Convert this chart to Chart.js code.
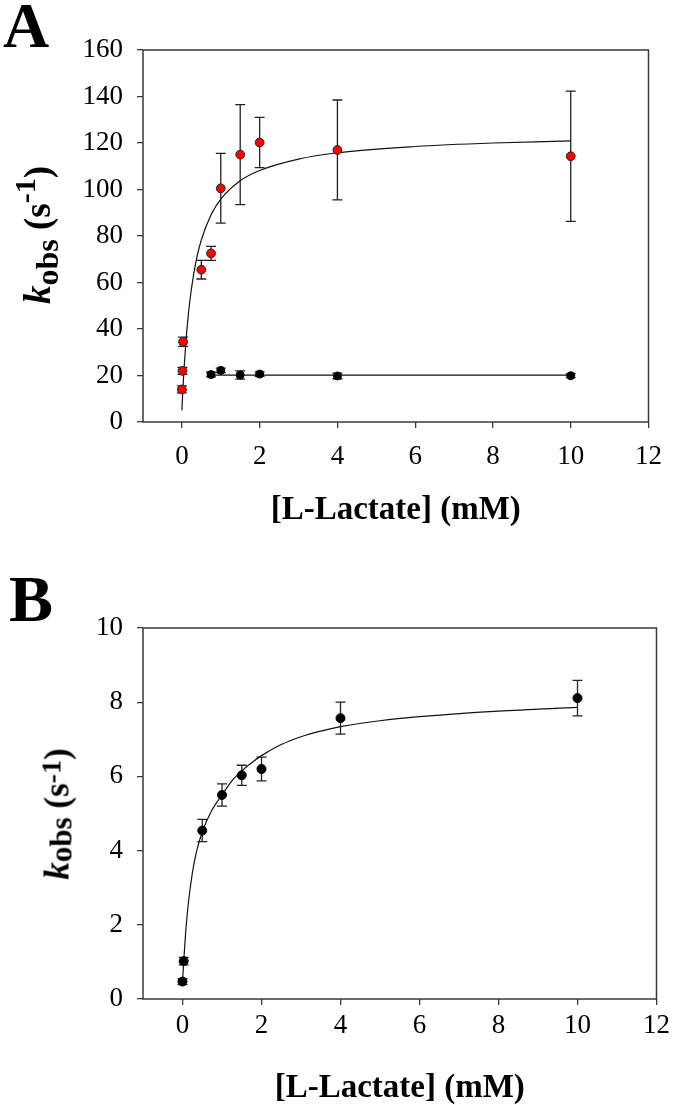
<!DOCTYPE html>
<html>
<head>
<meta charset="utf-8">
<script src="https://cdn.jsdelivr.net/npm/chart.js@4.4.1/dist/chart.umd.min.js"></script>
<style>
  body { margin: 0; background: #fff; }
  #wrap { position: relative; width: 675px; height: 1105px; overflow: hidden; }
  canvas { position: absolute; left: 0; }
  .panel { position: absolute; font-family: 'Liberation Serif', serif; font-weight: bold; line-height: 1; color: #000; }
  .ytitle {
    position: absolute; white-space: nowrap; color: #000;
    font-family: 'Liberation Serif', serif; font-weight: bold; font-size: 37px; line-height: 1;
    transform: translate(-50%, -50%) rotate(-90deg);
  }
  .ytitle sub { font-size: 32px; vertical-align: -8px; line-height: 0; }
  .ytitle sup { font-size: 30px; vertical-align: 15px; line-height: 0; }
</style>
</head>
<body>
<div id="wrap">
  <canvas id="chartA" width="675" height="552" style="top:0"></canvas>
  <canvas id="chartB" width="675" height="553" style="top:552px"></canvas>
  <div class="panel" style="left:3px;top:-6px;font-size:64px">A</div>
  <div class="panel" style="left:9px;top:566px;font-size:66px">B</div>
  <div class="ytitle" style="left:37px;top:235px"><i>k</i><sub>obs</sub> (s<sup>-1</sup>)</div>
  <div class="ytitle" style="left:57px;top:814px;font-size:35px"><i>k</i><sub style="vertical-align:-3px;font-size:31px">obs</sub> (s<sup style="vertical-align:8px;font-size:28px">-1</sup>)</div>
</div>
<script>
// x axis (shared by both panels)
const xTicks = [0, 2, 4, 6, 8, 10, 12];
const xTitle = '[L-Lactate] (mM)';

// Panel A - red points (k_obs, s-1)
const aRedX = [0, 0.015, 0.03, 0.5, 0.75, 1, 1.5, 2, 4, 10];
const aRedY = [14, 22, 34.5, 65.5, 72.5, 100.5, 115, 120.2, 117, 114.3];
const aRedErr = [1.5, 1.5, 2, 4, 3, 15, 21.5, 10.8, 21.5, 28];

// Panel A - black points
const aBlackX = [0.75, 1, 1.5, 2, 4, 10];
const aBlackY = [20.4, 22.2, 20.2, 20.6, 19.8, 19.9];
const aBlackErr = [1, 1, 1.8, 1, 1.2, 0.8];

// Panel A - fitted curves
const aFitX = [0, 0.02, 0.05, 0.1, 0.15, 0.2, 0.3, 0.4, 0.5, 0.75, 1, 1.5, 2, 3, 4, 6, 8, 10];
const aFitY = [5, 12, 21.4, 33.8, 43.5, 51.4, 63.3, 71.9, 78.3, 89.1, 95.9, 103.8, 108.2, 113.1, 115.8, 118.5, 120, 120.9];
const aFlatX = [0.75, 10];
const aFlatY = [20.2, 20.2];

// Panel B - points
const bX = [0, 0.03, 0.5, 1, 1.5, 2, 4, 10];
const bY = [0.47, 1.02, 4.54, 5.5, 6.03, 6.2, 7.57, 8.11];
const bErr = [0.08, 0.1, 0.3, 0.3, 0.27, 0.32, 0.43, 0.48];

// Panel B - fitted curve
const bFitX = [0, 0.03, 0.08, 0.15, 0.25, 0.35, 0.5, 0.75, 1, 1.25, 1.5, 1.75, 2, 2.5, 3, 3.5, 4, 5, 6, 8, 10];
const bFitY = [0.45, 1.0, 1.8, 2.6, 3.4, 3.95, 4.5, 5.1, 5.5, 5.88, 6.15, 6.37, 6.56, 6.86, 7.07, 7.22, 7.34, 7.5, 7.61, 7.76, 7.86];

const serif = 'Liberation Serif';
const axisColor = '#3a3a3a';

function pts(xs, ys) {
    return xs.map((x, i) => ({ x: x, y: ys[i] }));
}

// vertical error bars with caps, drawn under the markers
const errorBars = {
    id: 'errorBars',
    beforeDatasetsDraw(chart) {
        const ctx = chart.ctx;
        const xs = chart.scales.x, ys = chart.scales.y;
        const cap = 5;
        chart.data.datasets.forEach(ds => {
            if (!ds.errors) return;
            ctx.save();
            ctx.strokeStyle = '#222';
            ctx.lineWidth = 1.3;
            ds.data.forEach((p, j) => {
                const px = xs.getPixelForValue(p.x);
                const top = ys.getPixelForValue(p.y + ds.errors[j]);
                const bot = ys.getPixelForValue(p.y - ds.errors[j]);
                ctx.beginPath();
                ctx.moveTo(px, top); ctx.lineTo(px, bot);
                ctx.moveTo(px - cap, top); ctx.lineTo(px + cap, top);
                ctx.moveTo(px - cap, bot); ctx.lineTo(px + cap, bot);
                ctx.stroke();
            });
            ctx.restore();
        });
    }
};

// box round the plot area
const frame = {
    id: 'frame',
    afterDraw(chart) {
        const a = chart.chartArea;
        const ctx = chart.ctx;
        ctx.save();
        ctx.strokeStyle = axisColor;
        ctx.lineWidth = 1.5;
        ctx.strokeRect(a.left, a.top, a.right - a.left, a.bottom - a.top);
        ctx.restore();
    }
};

function makeOptions(yMax, yStep, topPad, xHeight, xTickPad, titlePad) {
    return {
        responsive: false,
        animation: false,
        layout: { padding: { left: 0, top: topPad, right: 16, bottom: 0 } },
        plugins: { legend: { display: false }, tooltip: { enabled: false } },
        scales: {
            x: {
                type: 'linear', min: -1, max: 12,
                afterBuildTicks: s => { s.ticks = xTicks.map(v => ({ value: v })); },
                afterFit: s => { s.height = xHeight; },
                grid: { drawOnChartArea: false, drawTicks: true, tickLength: 6, color: axisColor, lineWidth: 1.3 },
                border: { display: false },
                ticks: { color: '#000', padding: xTickPad, maxRotation: 0, font: { family: serif, size: 27 } },
                title: {
                    display: true, text: xTitle, color: '#000',
                    font: { family: serif, size: 33, weight: 'bold', lineHeight: 1 },
                    padding: { top: 0, bottom: titlePad }
                }
            },
            y: {
                type: 'linear', min: 0, max: yMax,
                afterFit: s => { s.width = 143; },
                grid: { drawOnChartArea: false, drawTicks: true, tickLength: 6, color: axisColor, lineWidth: 1.3 },
                border: { display: false },
                ticks: { stepSize: yStep, color: '#000', padding: 14, font: { family: serif, size: 27 } }
            }
        }
    };
}

document.addEventListener('DOMContentLoaded', function() {
    // Panel A
    new Chart(document.getElementById('chartA'), {
        type: 'scatter',
        data: {
            datasets: [
                { data: pts(aRedX, aRedY), errors: aRedErr, pointRadius: 4.4, pointBackgroundColor: '#ff0000', pointBorderColor: '#222', pointBorderWidth: 1 },
                { data: pts(aBlackX, aBlackY), errors: aBlackErr, pointRadius: 4, pointBackgroundColor: '#000', pointBorderColor: '#000', pointBorderWidth: 1 },
                { data: pts(aFitX, aFitY), showLine: true, pointRadius: 0, borderColor: '#111', borderWidth: 1.2, cubicInterpolationMode: 'monotone' },
                { data: pts(aFlatX, aFlatY), showLine: true, pointRadius: 0, borderColor: '#111', borderWidth: 1.2 }
            ]
        },
        options: makeOptions(160, 20, 50, 130, 13, 25),
        plugins: [errorBars, frame]
    });

    // Panel B
    new Chart(document.getElementById('chartB'), {
        type: 'scatter',
        data: {
            datasets: [
                { data: pts(bX, bY), errors: bErr, pointRadius: 4.5, pointBackgroundColor: '#000', pointBorderColor: '#000', pointBorderWidth: 1 },
                { data: pts(bFitX, bFitY), showLine: true, pointRadius: 0, borderColor: '#111', borderWidth: 1.2, cubicInterpolationMode: 'monotone' }
            ]
        },
        options: makeOptions(10, 2, 76, 106, 5, 0),
        plugins: [errorBars, frame]
    });
});
</script>
</body>
</html>
